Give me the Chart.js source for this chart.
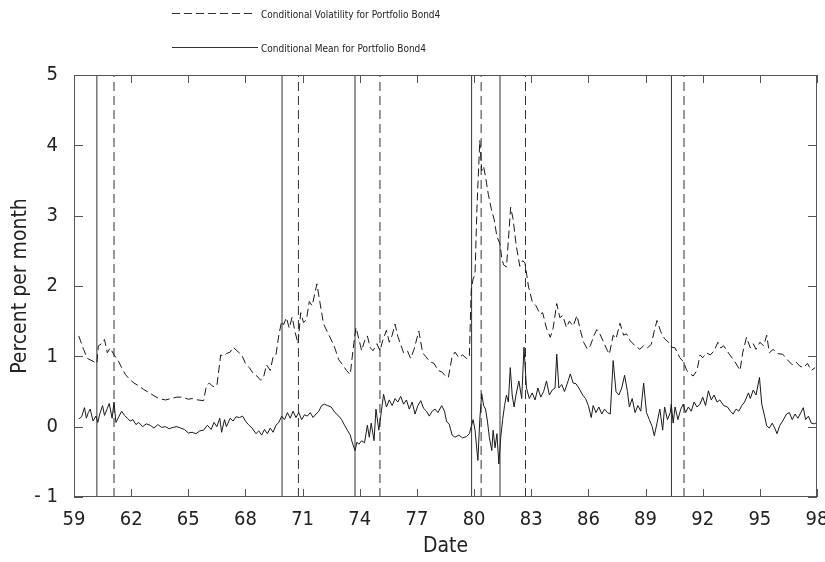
<!DOCTYPE html>
<html>
<head>
<meta charset="utf-8">
<script src="https://cdn.jsdelivr.net/npm/chart.js@4.4.1/dist/chart.umd.min.js"></script>
<style>
  html, body { margin: 0; padding: 0; background: #fff; }
</style>
</head>
<body>
<canvas id="grafica" width="825" height="562"></canvas>
<script>
"use strict";

// fechas en años (19xx) y valores, % por mes
const volYears = [59.25,59.5,59.7,60.0,60.2,60.28,60.45,60.6,60.75,60.9,61.1,61.3,61.5,61.7,61.9,62.15,62.4,62.65,62.9,63.2,63.45,63.8,64.1,64.4,64.7,65.0,65.2,65.5,65.8,65.95,66.1,66.3,66.5,66.7,66.85,67.0,67.2,67.35,67.55,67.8,68.0,68.2,68.4,68.6,68.8,68.95,69.1,69.3,69.45,69.6,69.75,69.9,70.0,70.15,70.3,70.45,70.6,70.76,70.9,71.05,71.2,71.35,71.5,71.75,71.9,72.1,72.35,72.65,72.9,73.1,73.3,73.5,73.65,73.8,73.95,74.1,74.25,74.4,74.55,74.7,74.9,75.06,75.2,75.4,75.55,75.7,75.85,76.0,76.3,76.5,76.67,76.85,77.1,77.3,77.45,77.7,77.9,78.1,78.3,78.5,78.65,78.85,79.0,79.2,79.4,79.6,79.75,79.85,79.95,80.05,80.15,80.3,80.4,80.5,80.6,80.75,80.9,81.05,81.2,81.36,81.45,81.55,81.7,81.8,81.92,82.05,82.2,82.4,82.55,82.67,82.85,83.05,83.25,83.46,83.6,83.8,84.0,84.15,84.34,84.5,84.65,84.85,85.0,85.2,85.4,85.6,85.75,85.95,86.1,86.3,86.44,86.6,86.8,87.0,87.1,87.3,87.45,87.66,87.85,88.0,88.2,88.45,88.7,88.9,89.1,89.3,89.45,89.6,89.8,90.0,90.2,90.37,90.55,90.8,91.0,91.16,91.35,91.5,91.7,91.86,92.0,92.2,92.4,92.6,92.8,92.95,93.1,93.4,93.7,93.96,94.1,94.3,94.5,94.65,94.8,95.0,95.2,95.36,95.5,95.7,95.9,96.2,96.45,96.7,96.9,97.1,97.3,97.5,97.7,97.9];
const volValues = [1.29,1.10,0.97,0.93,0.90,1.15,1.18,1.24,1.05,1.12,1.02,0.95,0.84,0.74,0.68,0.62,0.58,0.53,0.49,0.44,0.40,0.38,0.40,0.42,0.42,0.39,0.40,0.38,0.37,0.58,0.62,0.57,0.58,1.02,1.00,1.04,1.06,1.13,1.08,1.02,0.90,0.84,0.76,0.72,0.66,0.70,0.88,0.80,0.99,1.02,1.30,1.50,1.45,1.55,1.40,1.56,1.35,1.18,1.62,1.48,1.52,1.78,1.72,2.03,1.78,1.46,1.32,1.15,0.95,0.88,0.80,0.74,1.10,1.41,1.25,1.08,1.22,1.29,1.12,1.08,1.18,1.08,1.22,1.37,1.20,1.30,1.46,1.28,1.05,1.08,0.97,1.10,1.36,1.05,1.00,0.92,0.90,0.80,0.78,0.72,0.70,1.00,1.06,0.98,1.02,0.97,0.98,1.95,2.10,2.17,3.10,4.07,3.64,3.70,3.55,3.30,3.10,2.95,2.70,2.60,2.40,2.30,2.27,2.65,3.12,2.95,2.60,2.28,2.36,2.33,2.00,1.78,1.72,1.60,1.62,1.40,1.27,1.40,1.75,1.55,1.58,1.41,1.50,1.43,1.58,1.35,1.20,1.10,1.15,1.30,1.38,1.32,1.20,1.08,1.03,1.30,1.25,1.47,1.30,1.32,1.22,1.15,1.10,1.15,1.12,1.17,1.35,1.51,1.35,1.25,1.20,1.13,1.12,0.98,0.92,0.80,0.75,0.72,0.80,1.02,0.98,1.05,1.02,1.08,1.20,1.12,1.15,1.03,0.92,0.80,1.05,1.27,1.12,1.18,1.10,1.20,1.15,1.30,1.05,1.10,1.04,1.03,0.95,0.88,0.92,0.86,0.84,0.90,0.80,0.84];

const meanYears = [59.25,59.4,59.55,59.65,59.75,59.85,60.0,60.15,60.25,60.35,60.5,60.6,60.75,60.85,61.0,61.1,61.2,61.35,61.5,61.65,61.8,61.95,62.1,62.25,62.4,62.6,62.8,63.0,63.2,63.4,63.6,63.8,64.0,64.2,64.4,64.6,64.8,65.0,65.2,65.4,65.6,65.8,66.0,66.2,66.35,66.5,66.65,66.75,66.9,67.0,67.2,67.35,67.5,67.7,67.85,68.0,68.15,68.35,68.55,68.7,68.85,69.0,69.15,69.3,69.45,69.6,69.75,69.9,70.05,70.2,70.35,70.5,70.65,70.8,70.95,71.1,71.25,71.4,71.55,71.7,71.85,72.0,72.15,72.3,72.5,72.7,72.9,73.05,73.2,73.35,73.5,73.6,73.75,73.85,73.95,74.1,74.25,74.4,74.5,74.6,74.75,74.85,75.0,75.1,75.25,75.4,75.55,75.7,75.85,76.0,76.15,76.3,76.45,76.6,76.75,76.9,77.05,77.2,77.35,77.5,77.65,77.8,77.95,78.1,78.3,78.45,78.55,78.7,78.85,79.0,79.2,79.4,79.6,79.75,79.85,79.95,80.05,80.2,80.3,80.4,80.5,80.6,80.7,80.8,80.93,81.0,81.1,81.2,81.3,81.4,81.5,81.6,81.7,81.8,81.9,82.0,82.1,82.2,82.35,82.5,82.62,82.75,82.9,83.05,83.2,83.35,83.5,83.65,83.8,83.95,84.1,84.25,84.34,84.45,84.6,84.75,84.9,85.05,85.2,85.35,85.5,85.7,85.85,86.0,86.15,86.25,86.4,86.55,86.7,86.85,87.0,87.15,87.3,87.45,87.6,87.75,87.9,88.05,88.15,88.3,88.45,88.6,88.75,88.9,89.05,89.2,89.35,89.46,89.6,89.75,89.9,90.0,90.15,90.3,90.35,90.45,90.55,90.7,90.85,90.98,91.1,91.25,91.4,91.55,91.7,91.86,92.0,92.15,92.3,92.45,92.6,92.75,92.9,93.1,93.3,93.45,93.6,93.75,93.9,94.05,94.2,94.4,94.5,94.65,94.8,94.98,95.1,95.25,95.36,95.5,95.65,95.8,95.9,96.05,96.2,96.4,96.55,96.7,96.85,97.0,97.15,97.28,97.4,97.55,97.7,97.85,98.0];
const meanValues = [0.11,0.14,0.27,0.12,0.20,0.25,0.08,0.15,0.06,0.18,0.30,0.16,0.26,0.33,0.12,0.35,0.06,0.14,0.22,0.16,0.12,0.08,0.10,0.03,0.06,0.00,0.04,0.02,-0.02,0.03,-0.01,0.00,-0.03,-0.01,0.00,-0.02,-0.04,-0.09,-0.08,-0.10,-0.06,-0.05,0.02,-0.04,0.06,0.00,0.12,-0.08,0.10,0.00,0.12,0.08,0.14,0.13,0.15,0.08,0.03,-0.02,-0.10,-0.06,-0.12,-0.04,-0.10,-0.02,-0.08,0.02,0.06,0.15,0.10,0.20,0.12,0.22,0.13,0.20,0.10,0.17,0.15,0.20,0.13,0.18,0.22,0.30,0.32,0.30,0.28,0.20,0.15,0.10,0.02,-0.05,-0.12,-0.22,-0.34,-0.22,-0.25,-0.20,-0.23,0.02,-0.15,0.05,-0.20,0.25,-0.05,0.15,0.46,0.28,0.38,0.30,0.40,0.35,0.43,0.32,0.38,0.25,0.35,0.18,0.30,0.37,0.26,0.22,0.15,0.22,0.25,0.20,0.30,0.22,0.08,0.03,-0.12,-0.15,-0.12,-0.16,-0.14,-0.10,0.00,0.10,-0.05,-0.48,0.10,0.47,0.30,0.25,0.08,-0.15,-0.34,-0.05,-0.30,-0.10,-0.53,-0.15,0.10,0.30,0.45,0.35,0.84,0.45,0.28,0.45,0.65,0.40,1.13,0.55,0.40,0.48,0.38,0.55,0.42,0.50,0.65,0.45,0.52,0.55,1.03,0.55,0.60,0.50,0.62,0.75,0.62,0.61,0.55,0.45,0.40,0.30,0.13,0.30,0.20,0.28,0.18,0.25,0.20,0.18,0.94,0.50,0.45,0.55,0.73,0.50,0.28,0.40,0.20,0.30,0.22,0.62,0.20,0.10,0.00,-0.13,0.05,0.25,-0.05,0.28,0.10,0.20,0.32,0.05,0.28,0.10,0.25,0.32,0.20,0.28,0.22,0.35,0.28,0.32,0.42,0.30,0.51,0.38,0.45,0.35,0.38,0.30,0.28,0.22,0.18,0.25,0.22,0.30,0.35,0.48,0.40,0.52,0.45,0.70,0.32,0.15,0.01,-0.02,0.05,-0.03,-0.10,0.02,0.08,0.18,0.20,0.10,0.18,0.12,0.20,0.27,0.10,0.15,0.05,0.04,0.06];

// líneas verticales: continuas y discontinuas
const peakYears = [60.2, 69.92, 73.75, 79.87, 81.36, 90.36];
const troughYears = [61.1, 70.78, 75.06, 80.37, 82.7, 91.02];

const xTicks = [59, 62, 65, 68, 71, 74, 77, 80, 83, 86, 89, 92, 95, 98];
const yTicks = [-1, 0, 1, 2, 3, 4, 5];

const volLabel = 'Conditional Volatility for Portfolio Bond4';
const meanLabel = 'Conditional Mean for Portfolio Bond4';

const ink = '#1a1a1a';
const fuente = '"Liberation Sans Narrow", "DejaVu Sans Condensed", "Liberation Sans", sans-serif';

var toPoints = function (xs, ys) {
    return xs.map(function (x, i) { return { x: x, y: ys[i] }; });
};

var vertical = function (year, dashed) {
    return {
        data: [{ x: year, y: -1 }, { x: year, y: 5 }],
        borderColor: '#333',
        borderWidth: 1,
        borderDash: dashed ? [9, 5] : [],
        pointRadius: 0
    };
};

// marco, marcas hacia dentro y leyenda
const marcoPlugin = {
    id: 'marco',
    afterDraw(chart) {
        const ctx = chart.ctx;
        const a = chart.chartArea;
        const xs = chart.scales.x;
        const ys = chart.scales.y;
        ctx.save();
        ctx.strokeStyle = '#555';
        ctx.lineWidth = 1;
        ctx.setLineDash([]);
        ctx.strokeRect(a.left + 0.5, a.top + 0.5, a.right - a.left - 1, a.bottom - a.top - 1);
        ctx.beginPath();
        xTicks.forEach(function (v) {
            const px = Math.round(xs.getPixelForValue(v)) + 0.5;
            ctx.moveTo(px, a.bottom); ctx.lineTo(px, a.bottom - 8);
            ctx.moveTo(px, a.top); ctx.lineTo(px, a.top + 8);
        });
        yTicks.forEach(function (v) {
            const py = Math.round(ys.getPixelForValue(v)) + 0.5;
            ctx.moveTo(a.left, py); ctx.lineTo(a.left + 9, py);
            ctx.moveTo(a.right, py); ctx.lineTo(a.right - 9, py);
        });
        ctx.stroke();

        // leyenda en dos filas
        const filas = [
            { ds: chart.data.datasets[0], y: 13 },
            { ds: chart.data.datasets[1], y: 47 }
        ];
        ctx.font = '10px ' + fuente;
        ctx.fillStyle = '#222';
        ctx.textBaseline = 'middle';
        filas.forEach(function (f) {
            ctx.beginPath();
            ctx.strokeStyle = '#333';
            ctx.setLineDash(f.ds.borderDash || []);
            ctx.moveTo(172, f.y + 0.5);
            ctx.lineTo(f.ds.borderDash.length ? 252 : 258, f.y + 0.5);
            ctx.stroke();
            ctx.fillText(f.ds.label, 261, f.y + 2);
        });
        ctx.restore();
    }
};

const datasets = [
    {
        label: volLabel,
        data: toPoints(volYears, volValues),
        borderColor: ink,
        borderWidth: 1,
        borderDash: [8, 4],
        pointRadius: 0,
        tension: 0
    },
    {
        label: meanLabel,
        data: toPoints(meanYears, meanValues),
        borderColor: ink,
        borderWidth: 1,
        borderDash: [],
        pointRadius: 0,
        tension: 0
    }
];
peakYears.forEach(function (y) { datasets.push(vertical(y, false)); });
troughYears.forEach(function (y) { datasets.push(vertical(y, true)); });

new Chart(document.getElementById('grafica'), {
    type: 'line',
    data: { datasets: datasets },
    options: {
        responsive: false,
        animation: false,
        devicePixelRatio: 1,
        layout: { padding: { top: 75, right: 8, left: 0, bottom: 0 } },
        plugins: {
            legend: { display: false },
            tooltip: { enabled: false }
        },
        scales: {
            x: {
                type: 'linear',
                min: 59,
                max: 98,
                afterBuildTicks: function (s) { s.ticks = xTicks.map(function (v) { return { value: v }; }); },
                afterFit: function (s) { s.height = 65; s.paddingLeft = 0; s.paddingRight = 0; },
                grid: { display: false, drawTicks: false },
                border: { display: false },
                ticks: {
                    padding: 11,
                    color: '#222',
                    font: { family: fuente, size: 20 },
                    maxRotation: 0,
                    callback: function (v) { return String(v); }
                },
                title: {
                    display: true,
                    text: 'Date',
                    color: '#222',
                    font: { family: fuente, size: 21 },
                    padding: { top: 0, bottom: 3 }
                }
            },
            y: {
                min: -1,
                max: 5,
                afterBuildTicks: function (s) { s.ticks = yTicks.map(function (v) { return { value: v }; }); },
                afterFit: function (s) { s.width = 74; s.paddingTop = 0; s.paddingBottom = 0; },
                grid: { display: false, drawTicks: false },
                border: { display: false },
                ticks: {
                    padding: 16,
                    color: '#222',
                    font: { family: fuente, size: 20 },
                    callback: function (v) { return v < 0 ? '- ' + Math.abs(v) : String(v); }
                },
                title: {
                    display: true,
                    text: 'Percent per month',
                    color: '#222',
                    font: { family: fuente, size: 21 },
                    padding: { top: 8, bottom: 0 }
                }
            }
        }
    },
    plugins: [marcoPlugin]
});
</script>
</body>
</html>
